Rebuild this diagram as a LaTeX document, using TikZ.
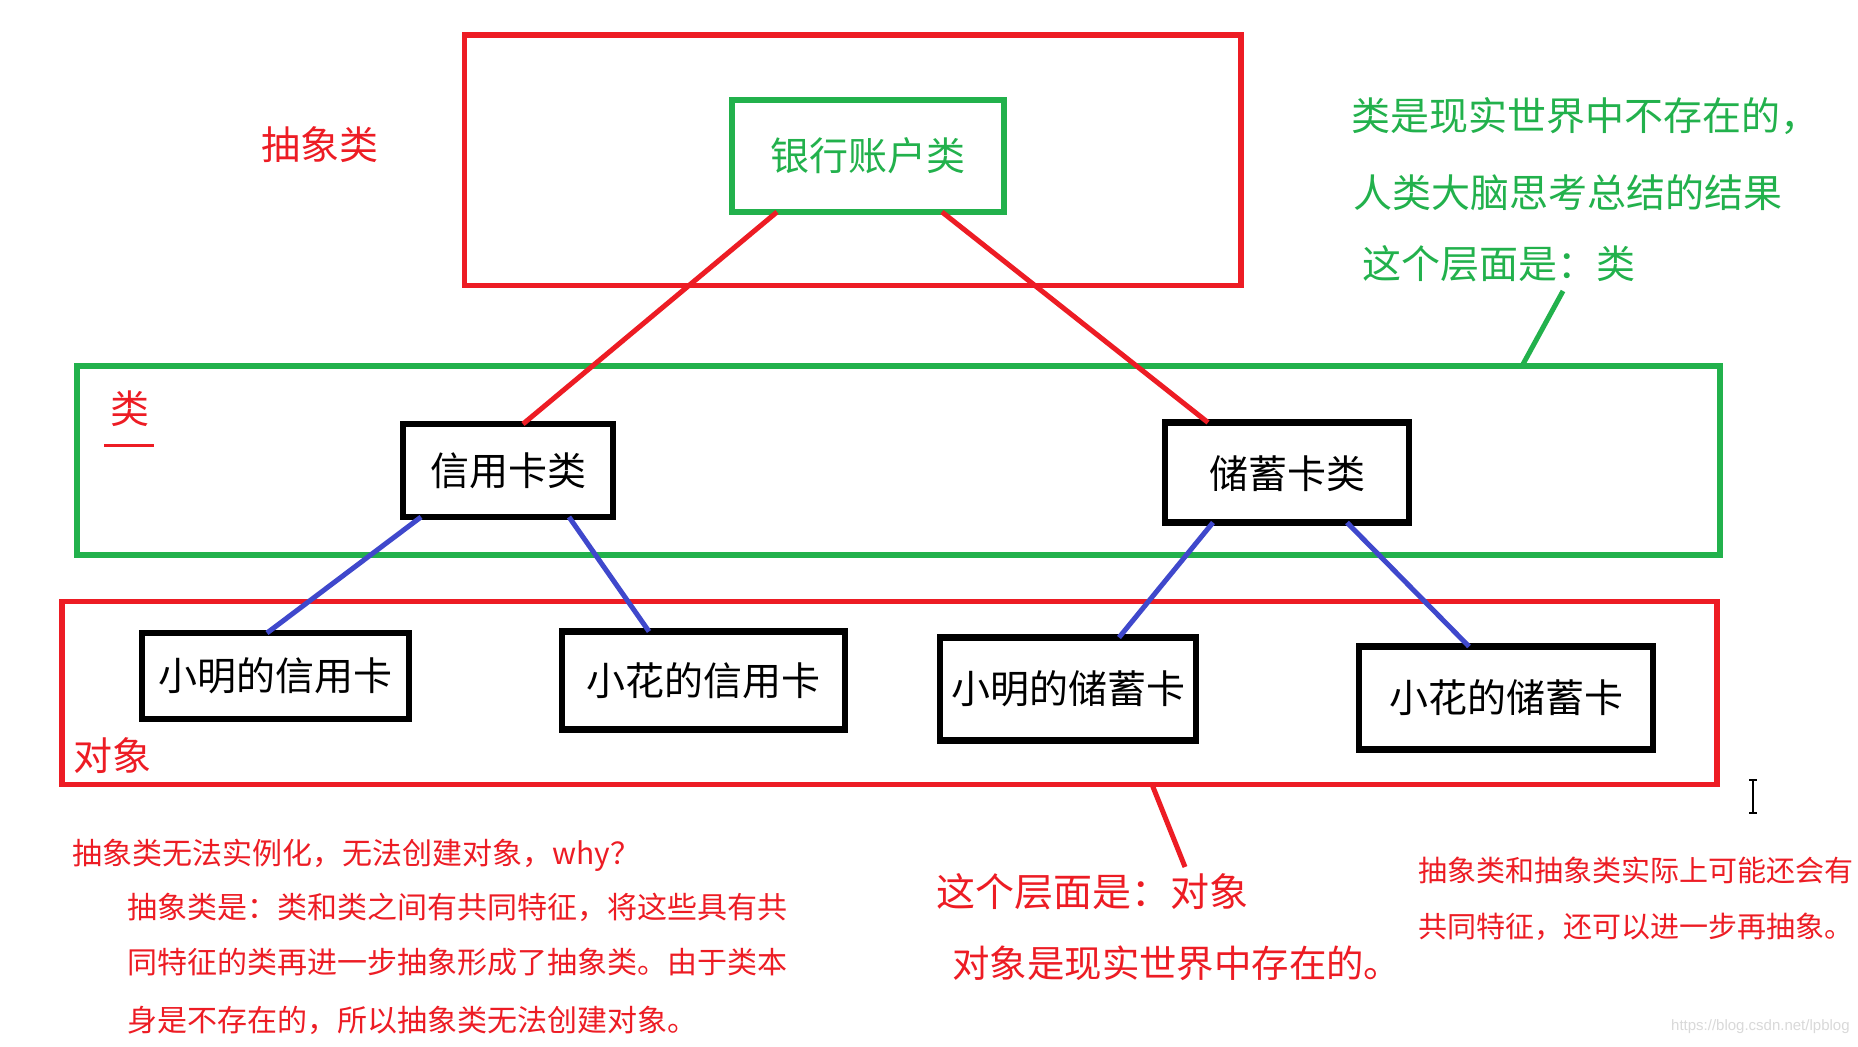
\documentclass[tikz,border=0pt]{standalone}
\usepackage{fontspec}
\setmainfont{Noto Sans CJK SC}
\newfontfamily\wmfont{Liberation Sans}
\usetikzlibrary{positioning}
\definecolor{PaintRed}{HTML}{ED1C24}
\definecolor{PaintGreen}{HTML}{22B14C}
\definecolor{PaintBlue}{HTML}{3F48CC}

\begin{document}
\begin{tikzpicture}[x=0.5pt,y=-0.5pt,font=\fontsize{19.5pt}{22pt}\selectfont,
      band/.style={draw,line width=2.6pt,inner sep=0pt,outer sep=0pt},
      blk/.style={draw=black,line width=3.2pt,inner sep=0pt,outer sep=0pt},
      txt/.style={inner sep=0pt},
      small/.style={txt,anchor=west,text=PaintRed,font=\fontsize{15pt}{17pt}\selectfont},
      lnk/.style={line width=2.5pt}]
      \useasboundingbox[fill=white] (0,0) rectangle (1858,1047);
      \node[band,draw=PaintRed,minimum width=388.25pt,minimum height=125.25pt] (absband) at (852.75,160.25) {};
      \node[band,draw=PaintGreen,minimum width=821.5pt,minimum height=94.5pt] (clsband) at (898.5,460.5) {};
      \node[band,draw=PaintRed,minimum width=827.5pt,minimum height=91.5pt] (objband) at (889.5,693) {};
      \node[band,draw=PaintGreen,text=PaintGreen,minimum width=136pt,minimum height=56pt] (bank) at (868,156) {银行账户类};
      \node[blk,minimum width=104.75pt,minimum height=46.5pt] (credit) at (508,470.5) {信用卡类};
      \node[blk,minimum width=122pt,minimum height=50pt,text depth=-4pt] (debit) at (1287,472.5) {储蓄卡类};
      \node[blk,minimum width=133.5pt,minimum height=43pt] (xmc) at (275.5,676) {小明的信用卡};
      \node[blk,minimum width=141.5pt,minimum height=49pt] (xhc) at (703.5,680.5) {小花的信用卡};
      \node[blk,minimum width=128pt,minimum height=51.5pt] (xmd) at (1068,689) {小明的储蓄卡};
      \node[blk,minimum width=147pt,minimum height=51.5pt] (xhd) at (1506,698) {小花的储蓄卡};
      \node[txt,text=PaintRed] (abslab) at (320,145) {抽象类};
      \node[txt,text=PaintRed] (clslab) at (130,409) {类};
      \draw[PaintRed,line width=1.5pt] (104,446) -- (154,446);
      \node[txt,text=PaintRed] (objlab) at (112,756) {对象};
      \node[txt,anchor=west,text=PaintGreen] (clsnote1) at (1351,116) {类是现实世界中不存在的，};
      \node[txt,anchor=west,text=PaintGreen] (clsnote2) at (1353,193) {人类大脑思考总结的结果};
      \node[txt,anchor=west,text=PaintGreen] (clsnote3) at (1362,264) {这个层面是：类};
      \node[txt,anchor=west,text=PaintRed] (objnote1) at (936,892) {这个层面是：对象};
      \node[txt,anchor=west,text=PaintRed,font=\fontsize{18.7pt}{21pt}\selectfont] (objnote2) at (952,963) {对象是现实世界中存在的。};
      \node[small] (why1) at (72,855) {抽象类无法实例化，无法创建对象，why？};
      \node[small] (why2) at (127.5,907) {抽象类是：类和类之间有共同特征，将这些具有共};
      \node[small] (why3) at (127.5,962) {同特征的类再进一步抽象形成了抽象类。由于类本};
      \node[small] (why4) at (127.5,1020) {身是不存在的，所以抽象类无法创建对象。};
      \node[small,font=\fontsize{14.5pt}{17pt}\selectfont] (more1) at (1418,870) {抽象类和抽象类实际上可能还会有};
      \node[small,font=\fontsize{14.5pt}{17pt}\selectfont] (more2) at (1418,927) {共同特征，还可以进一步再抽象。};
      \node[txt,anchor=east,text=gray!30,font=\wmfont\fontsize{7.5pt}{9pt}\selectfont] (wm) at (1850,1027) {https://blog.csdn.net/lpblog};
      \draw[line width=0.8pt] (1753,780) -- (1753,813) (1749,780) -- (1757,780) (1749,813) -- (1757,813);
      \draw[lnk,PaintRed] ([xshift=-45.5pt]bank.south) -- ([xshift=7.5pt]credit.north);
      \draw[lnk,PaintRed] ([xshift=37pt]bank.south) -- ([xshift=-39.5pt]debit.north);
      \draw[lnk,PaintBlue] ([xshift=-43.5pt]credit.south) -- ([xshift=-4.25pt]xmc.north);
      \draw[lnk,PaintBlue] ([xshift=30.5pt]credit.south) -- ([xshift=-27.25pt]xhc.north);
      \draw[lnk,PaintBlue] ([xshift=-37pt]debit.south) -- ([xshift=25.5pt]xmd.north);
      \draw[lnk,PaintBlue] ([xshift=30pt]debit.south) -- ([xshift=-18.5pt]xhd.north);
      \coordinate (clstip) at (1563,291);
      \coordinate (objtip) at (1185,867);
      \draw[lnk,PaintGreen] (clstip) -- ([xshift=311.75pt]clsband.north);
      \draw[lnk,PaintRed] ([xshift=131.25pt]objband.south) -- (objtip);
    \end{tikzpicture}
\end{document}
